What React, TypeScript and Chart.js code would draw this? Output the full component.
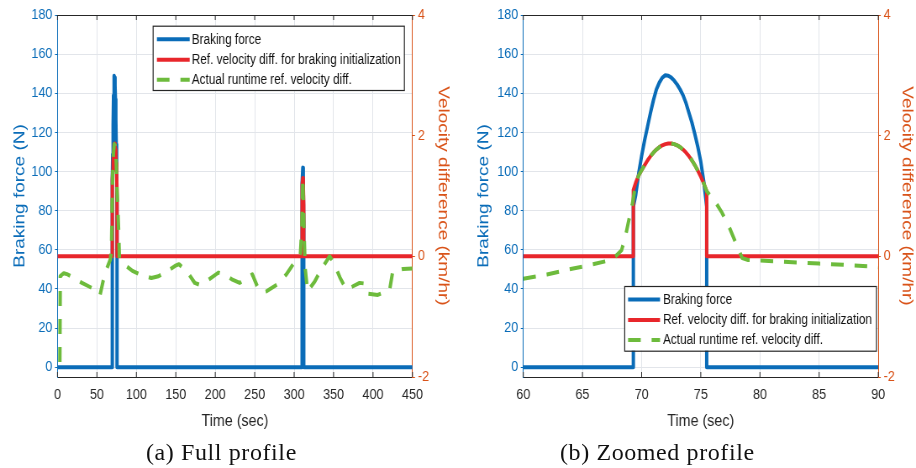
import React, { useEffect, useRef } from 'react';
import { Chart, registerables } from 'chart.js';

Chart.register(...registerables);

// ---------------- data ----------------
const fullTicksX = [0, 50, 100, 150, 200, 250, 300, 350, 400, 450];
const zoomTicksX = [60, 65, 70, 75, 80, 85, 90];
const forceTicks = [0, 20, 40, 60, 80, 100, 120, 140, 160, 180];
const velTicks = [-2, 0, 2, 4];

const legendLabels = [
  'Braking force',
  'Ref. velocity diff. for braking initialization',
  'Actual runtime ref. velocity diff.',
];
const captions = ['(a) Full profile', '(b) Zoomed profile'];

// Full profile
const fullForceTime = [0, 69.3, 69.3, 69.6, 70, 70.5, 71, 71.5, 72, 72.5, 73, 73.5, 74, 74.5, 75, 75.5, 75.5, 309.8, 309.8, 310.4, 311, 311.6, 312.2, 312.2, 450];
const fullForceVal = [0, 0, 82, 95, 109, 124, 139, 146, 149, 148, 144, 137, 127, 114, 102, 82, 0, 0, 72, 94, 102, 94, 72, 0, 0];

const fullRefTime = [0, 69.3, 69.3, 69.6, 70, 70.5, 71, 71.5, 72, 72.5, 73, 73.5, 74, 74.5, 75, 75.5, 75.5, 309.8, 309.8, 310.4, 311, 311.6, 312.2, 312.2, 450];
const fullRefVal = [0, 0, 1.1, 1.27, 1.42, 1.58, 1.71, 1.8, 1.86, 1.87, 1.84, 1.77, 1.67, 1.54, 1.34, 1.08, 0, 0, 0.85, 1.18, 1.3, 1.18, 0.85, 0, 0];

const fullActTime = [3, 3.5, 8, 13, 22, 31, 40, 47.5, 54, 58, 62, 67, 68.3, 68.6, 69.2, 70, 71, 72, 73, 74, 75, 75.5, 76.2, 77.5, 78.5, 80, 86, 95, 104.5, 119, 128, 136, 149, 154, 164, 174, 180, 189, 204, 212, 221, 231, 240, 247, 254, 260, 265, 278, 290, 303, 308, 309.8, 311, 312.2, 314, 317, 326, 335, 345, 350, 358, 366, 374, 383, 389, 393, 406, 421, 425, 438, 450];
const fullActVal = [-1.75, -0.33, -0.28, -0.3, -0.37, -0.44, -0.5, -0.55, -0.64, -0.4, -0.22, -0.05, 0.1, 0.3, 0.85, 1.42, 1.71, 1.86, 1.84, 1.67, 1.34, 1.08, 0.91, 0.44, -0.03, -0.07, -0.15, -0.24, -0.3, -0.36, -0.33, -0.27, -0.16, -0.13, -0.25, -0.44, -0.47, -0.41, -0.27, -0.3, -0.38, -0.44, -0.35, -0.3, -0.52, -0.6, -0.58, -0.47, -0.3, -0.05, 0.05, 0.5, 1.3, 0.6, -0.2, -0.58, -0.42, -0.2, 0.0, -0.1, -0.35, -0.55, -0.5, -0.44, -0.45, -0.62, -0.64, -0.56, -0.25, -0.21, -0.2];

// Zoomed profile
const zoomForceTime = [60, 69.3, 69.3, 69.5, 69.75, 70, 70.25, 70.5, 70.75, 71, 71.25, 71.5, 71.75, 72, 72.25, 72.5, 72.75, 73, 73.25, 73.5, 73.75, 74, 74.25, 74.5, 74.75, 75, 75.25, 75.5, 75.5, 90];
const zoomForceVal = [0, 0, 82, 88, 99, 108, 116, 123, 130, 136.5, 142, 145.5, 148, 149.2, 149, 148, 146.5, 144.5, 142, 139, 135, 130, 125, 119, 112.5, 105, 95, 82, 0, 0];

const zoomRefTime = [60, 69.3, 69.3, 69.5, 69.75, 70, 70.25, 70.5, 70.75, 71, 71.25, 71.5, 71.75, 72, 72.25, 72.5, 72.75, 73, 73.25, 73.5, 73.75, 74, 74.25, 74.5, 74.75, 75, 75.25, 75.5, 75.5, 90];
const zoomRefVal = [0, 0, 1.1, 1.22, 1.34, 1.43, 1.51, 1.59, 1.66, 1.72, 1.77, 1.81, 1.84, 1.86, 1.87, 1.87, 1.86, 1.84, 1.81, 1.77, 1.72, 1.66, 1.59, 1.51, 1.42, 1.32, 1.21, 1.08, 0, 0];

const zoomActTime = [60, 62, 64, 65.5, 67, 67.8, 68.3, 68.6, 68.9, 69.2, 69.5, 69.75, 70, 70.25, 70.5, 70.75, 71, 71.25, 71.5, 71.75, 72, 72.25, 72.5, 72.75, 73, 73.25, 73.5, 73.75, 74, 74.25, 74.5, 74.75, 75, 75.25, 75.5, 76.2, 76.8, 77.5, 78, 78.5, 79, 80, 82, 85, 88, 90];
const zoomActVal = [-0.37, -0.3, -0.21, -0.15, -0.08, 0.0, 0.1, 0.3, 0.58, 0.85, 1.2, 1.34, 1.43, 1.51, 1.59, 1.66, 1.72, 1.77, 1.81, 1.84, 1.86, 1.87, 1.87, 1.86, 1.84, 1.81, 1.77, 1.72, 1.66, 1.59, 1.51, 1.42, 1.32, 1.21, 1.08, 0.91, 0.72, 0.44, 0.2, -0.03, -0.06, -0.07, -0.09, -0.12, -0.15, -0.18];

// ---------------- styling ----------------
const BLUE = '#0a6cb8';
const RED = '#e8262b';
const GREEN = '#6dbb3c';
const ORANGE = '#d95319';
const DARK = '#262626';
const GRID = '#e2e5ea';
const FONT = '"Liberation Sans", Arial, Helvetica, sans-serif';

const CW = 545; // internal canvas width (squeezed horizontally into 458 css px)
const CH = 440;

const pts = (t: number[], v: number[]) => t.map((x, i) => ({ x, y: v[i] }));

const framePlugin = {
  id: 'frame',
  afterDraw(chart: any, _args: any, opts: any) {
    const { ctx, chartArea: a, scales } = chart;
    ctx.save();
    ctx.strokeStyle = DARK;
    ctx.lineWidth = 1;
    ctx.beginPath();
    ctx.moveTo(a.left, a.top + 0.5);
    ctx.lineTo(a.right, a.top + 0.5);
    const xs = scales.x;
    xs.ticks.forEach((t: any) => {
      const px = xs.getPixelForValue(t.value);
      ctx.moveTo(px, a.top);
      ctx.lineTo(px, a.top + 5);
      ctx.moveTo(px, a.bottom);
      ctx.lineTo(px, a.bottom - 5);
    });
    ctx.stroke();

    const L = opts.box;
    if (L) {
      ctx.fillStyle = '#ffffff';
      ctx.fillRect(L.x, L.y, L.w, L.h);
      ctx.strokeStyle = DARK;
      ctx.lineWidth = 1.2;
      ctx.strokeRect(L.x + 0.5, L.y + 0.5, L.w, L.h);
      const rows = [13.5, 34, 54];
      chart.data.datasets.forEach((ds: any, i: number) => {
        const y = L.y + rows[i];
        ctx.save();
        ctx.strokeStyle = ds.borderColor;
        ctx.lineWidth = ds.borderWidth;
        ctx.setLineDash(ds.borderDash || []);
        ctx.beginPath();
        ctx.moveTo(L.x + L.s0, y);
        ctx.lineTo(L.x + L.s1, y);
        ctx.stroke();
        ctx.restore();
        ctx.fillStyle = '#111';
        ctx.font = `14px ${FONT}`;
        ctx.textBaseline = 'middle';
        ctx.textAlign = 'left';
        ctx.fillText(ds.label, L.x + L.tx, y + 0.5);
      });
    }
    ctx.restore();
  },
};

type PanelCfg = {
  xMin: number; xMax: number; xTicks: number[];
  forceT: number[]; forceV: number[];
  refT: number[]; refV: number[];
  actT: number[]; actV: number[];
  leftW: number; rightW: number;
  leftTitlePad: number; rightTitlePad: number;
  box: any;
};

function makeConfig(p: PanelCfg): any {
  const tickFont = { family: FONT, size: 15 };
  return {
    type: 'line',
    data: {
      datasets: [
        { label: legendLabels[0], data: pts(p.forceT, p.forceV), yAxisID: 'y', borderColor: BLUE, borderWidth: 4, pointRadius: 0, tension: 0, order: 2, borderJoinStyle: 'round' },
        { label: legendLabels[1], data: pts(p.refT, p.refV), yAxisID: 'y1', borderColor: RED, borderWidth: 4, pointRadius: 0, tension: 0, order: 1, borderJoinStyle: 'round' },
        { label: legendLabels[2], data: pts(p.actT, p.actV), yAxisID: 'y1', borderColor: GREEN, borderWidth: 4, borderDash: [15, 13], pointRadius: 0, tension: 0, order: 0, borderJoinStyle: 'round' },
      ],
    },
    options: {
      animation: false,
      responsive: false,
      devicePixelRatio: 1,
      layout: { padding: { top: 15, left: 0, right: 0, bottom: 0 } },
      plugins: {
        legend: { display: false },
        tooltip: { enabled: false },
        frame: { box: p.box },
      },
      scales: {
        x: {
          type: 'linear',
          min: p.xMin,
          max: p.xMax,
          afterBuildTicks: (s: any) => { s.ticks = p.xTicks.map((v) => ({ value: v })); },
          afterFit: (s: any) => { s.height = CH - 377; },
          grid: { color: GRID, drawTicks: false },
          border: { color: DARK, width: 1 },
          ticks: { color: DARK, font: tickFont, padding: 9, maxRotation: 0, autoSkip: false },
          title: { display: true, text: 'Time (sec)', color: DARK, font: { family: FONT, size: 17 }, padding: { top: 0, bottom: 8 } },
        },
        y: {
          type: 'linear',
          position: 'left',
          min: -5,
          max: 180,
          afterBuildTicks: (s: any) => { s.ticks = forceTicks.map((v) => ({ value: v })); },
          afterFit: (s: any) => { s.width = p.leftW; },
          grid: { color: GRID, tickColor: BLUE, tickLength: 3 },
          border: { color: BLUE, width: 1 },
          ticks: { color: BLUE, font: tickFont, padding: 3 },
          title: { display: true, text: 'Braking force (N)', color: BLUE, font: { family: FONT, size: 19 }, padding: { top: p.leftTitlePad, bottom: 0 } },
        },
        y1: {
          type: 'linear',
          position: 'right',
          min: -2,
          max: 4,
          afterBuildTicks: (s: any) => { s.ticks = velTicks.map((v) => ({ value: v })); },
          afterFit: (s: any) => { s.width = p.rightW; },
          grid: { drawOnChartArea: false, tickColor: ORANGE, tickLength: 3 },
          border: { color: ORANGE, width: 1 },
          ticks: { color: ORANGE, font: tickFont, padding: 3.5 },
          title: { display: true, text: 'Velocity difference (km/hr)', color: ORANGE, font: { family: FONT, size: 19 }, padding: { top: p.rightTitlePad, bottom: 0 } },
        },
      },
    },
    plugins: [framePlugin],
  };
}

const panelA: PanelCfg = {
  xMin: 0, xMax: 450, xTicks: fullTicksX,
  forceT: fullForceTime, forceV: fullForceVal,
  refT: fullRefTime, refV: fullRefVal,
  actT: fullActTime, actV: fullActVal,
  leftW: 68.4, rightW: 54.2,
  leftTitlePad: 12.4, rightTitlePad: 6.5,
  box: { x: 181.7, y: 25.7, w: 299, h: 64.3, s0: 5, s1: 44, tx: 46.5 },
};

const panelB: PanelCfg = {
  xMin: 60, xMax: 90, xTicks: zoomTicksX,
  forceT: zoomForceTime, forceV: zoomForceVal,
  refT: zoomRefTime, refV: zoomRefVal,
  actT: zoomActTime, actV: zoomActVal,
  leftW: 77.7, rightW: 44.9,
  leftTitlePad: 18.9, rightTitlePad: -1,
  box: { x: 197.9, y: 286, w: 299.5, h: 64.7, s0: 4.5, s1: 42.5, tx: 46 },
};

function Panel({ cfg, left }: { cfg: PanelCfg; left: number }) {
  const ref = useRef<HTMLCanvasElement | null>(null);
  useEffect(() => {
    if (!ref.current) return;
    const chart = new Chart(ref.current, makeConfig(cfg));
    return () => chart.destroy();
  }, [cfg]);
  return (
    <canvas
      ref={ref}
      width={CW}
      height={CH}
      style={{ position: 'absolute', left, top: 0, width: '458px', height: `${CH}px` }}
    />
  );
}

export default function App() {
  const capStyle: React.CSSProperties = {
    position: 'absolute',
    top: 440,
    font: '24px "Liberation Serif", "Times New Roman", serif',
    letterSpacing: '0.6px',
    lineHeight: '24px',
    whiteSpace: 'nowrap',
    color: '#111',
  };
  return (
    <div style={{ position: 'absolute', left: 0, top: 0, width: 916, height: 468, background: '#fff', overflow: 'hidden' }}>
      <Panel cfg={panelA} left={0} />
      <Panel cfg={panelB} left={458} />
      <div style={{ ...capStyle, left: 146 }}>{captions[0]}</div>
      <div style={{ ...capStyle, left: 560 }}>{captions[1]}</div>
    </div>
  );
}
